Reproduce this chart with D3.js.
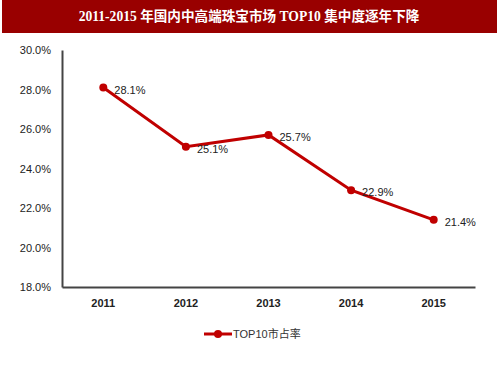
<!DOCTYPE html>
<html>
<head>
<meta charset="utf-8">
<script src="https://cdn.jsdelivr.net/npm/d3@7"></script>
<style>
  body{margin:0;background:#fff;}
  svg{display:block;}
  .axis text{font-family:"Liberation Sans",Arial,sans-serif;font-size:11px;fill:#222;}
</style>
</head>
<body>
<svg width="500" height="375"></svg>
<script>
var titleText="2011-2015 年国内中高端珠宝市场 TOP10 集中度逐年下降";
var years=["2011","2012","2013","2014","2015"];
var shares=[28.1,25.1,25.7,22.9,21.4];
var yTicks=[18,20,22,24,26,28,30];
var seriesName="TOP10市占率";

var drawGraph=function(){
  var svg=d3.select("svg");
  var margin={top:50,left:62,right:25,bottom:88};
  var plotWidth=500-margin.left-margin.right;
  var plotHeight=375-margin.top-margin.bottom;
  var red="#C00000";

  // title bar
  svg.append("rect")
    .attr("x",2).attr("y",0)
    .attr("width",495).attr("height",33)
    .attr("fill","#990000");
  svg.append("text")
    .attr("x",249).attr("y",21)
    .attr("text-anchor","middle")
    .attr("fill","#fff")
    .attr("font-family","'Liberation Serif','Noto Sans CJK SC',serif")
    .attr("font-weight","bold")
    .attr("font-size","13.6px")
    .text(titleText);

  var xScale=d3.scaleBand()
    .domain(years)
    .range([0,plotWidth]);
  var yScale=d3.scaleLinear()
    .domain([18,30])
    .range([plotHeight,0]);

  var plot=svg.append("g")
    .attr("transform","translate("+margin.left+","+margin.top+")");

  var yAxis=d3.axisLeft(yScale)
    .tickValues(yTicks)
    .tickSize(0)
    .tickPadding(11)
    .tickFormat(function(d){return d.toFixed(1)+"%";});
  var yGroup=plot.append("g").attr("class","axis").call(yAxis);
  yGroup.select(".domain").attr("stroke","#444").attr("stroke-width",2);

  var xAxis=d3.axisBottom(xScale).tickSize(0).tickPadding(12);
  var xGroup=plot.append("g").attr("class","axis")
    .attr("transform","translate(0,"+plotHeight+")")
    .call(xAxis);
  xGroup.select(".domain").attr("stroke","#444").attr("stroke-width",2);
  xGroup.selectAll("text").attr("font-weight","bold");

  var points=years.map(function(y,i){return {year:y,value:shares[i]};});
  var line=d3.line()
    .x(function(d){return xScale(d.year)+xScale.bandwidth()/2;})
    .y(function(d){return yScale(d.value);});

  plot.append("path")
    .datum(points)
    .attr("fill","none")
    .attr("stroke",red)
    .attr("stroke-width",3)
    .attr("d",line);

  plot.selectAll("circle.pt")
    .data(points)
    .enter().append("circle")
    .attr("class","pt")
    .attr("cx",function(d){return xScale(d.year)+xScale.bandwidth()/2;})
    .attr("cy",function(d){return yScale(d.value);})
    .attr("r",4)
    .attr("fill",red);

  plot.selectAll("text.details")
    .data(points)
    .enter().append("text")
    .attr("class","details")
    .attr("x",function(d){return xScale(d.year)+xScale.bandwidth()/2+11;})
    .attr("y",function(d){return yScale(d.value)+6;})
    .attr("font-family","'Liberation Sans',Arial,sans-serif")
    .attr("font-size","11px")
    .attr("fill","#222")
    .text(function(d){return d.value.toFixed(1)+"%";});

  // legend
  var legend=svg.append("g").attr("transform","translate(204,334)");
  legend.append("line")
    .attr("x1",0).attr("x2",28)
    .attr("y1",0).attr("y2",0)
    .attr("stroke",red).attr("stroke-width",3);
  legend.append("circle")
    .attr("cx",14).attr("cy",0).attr("r",4)
    .attr("fill",red);
  legend.append("text")
    .attr("x",29).attr("y",4)
    .attr("font-family","'Liberation Sans','Noto Sans CJK SC',sans-serif")
    .attr("font-size","11px")
    .attr("fill","#333")
    .text(seriesName);
};

drawGraph();
</script>
</body>
</html>
